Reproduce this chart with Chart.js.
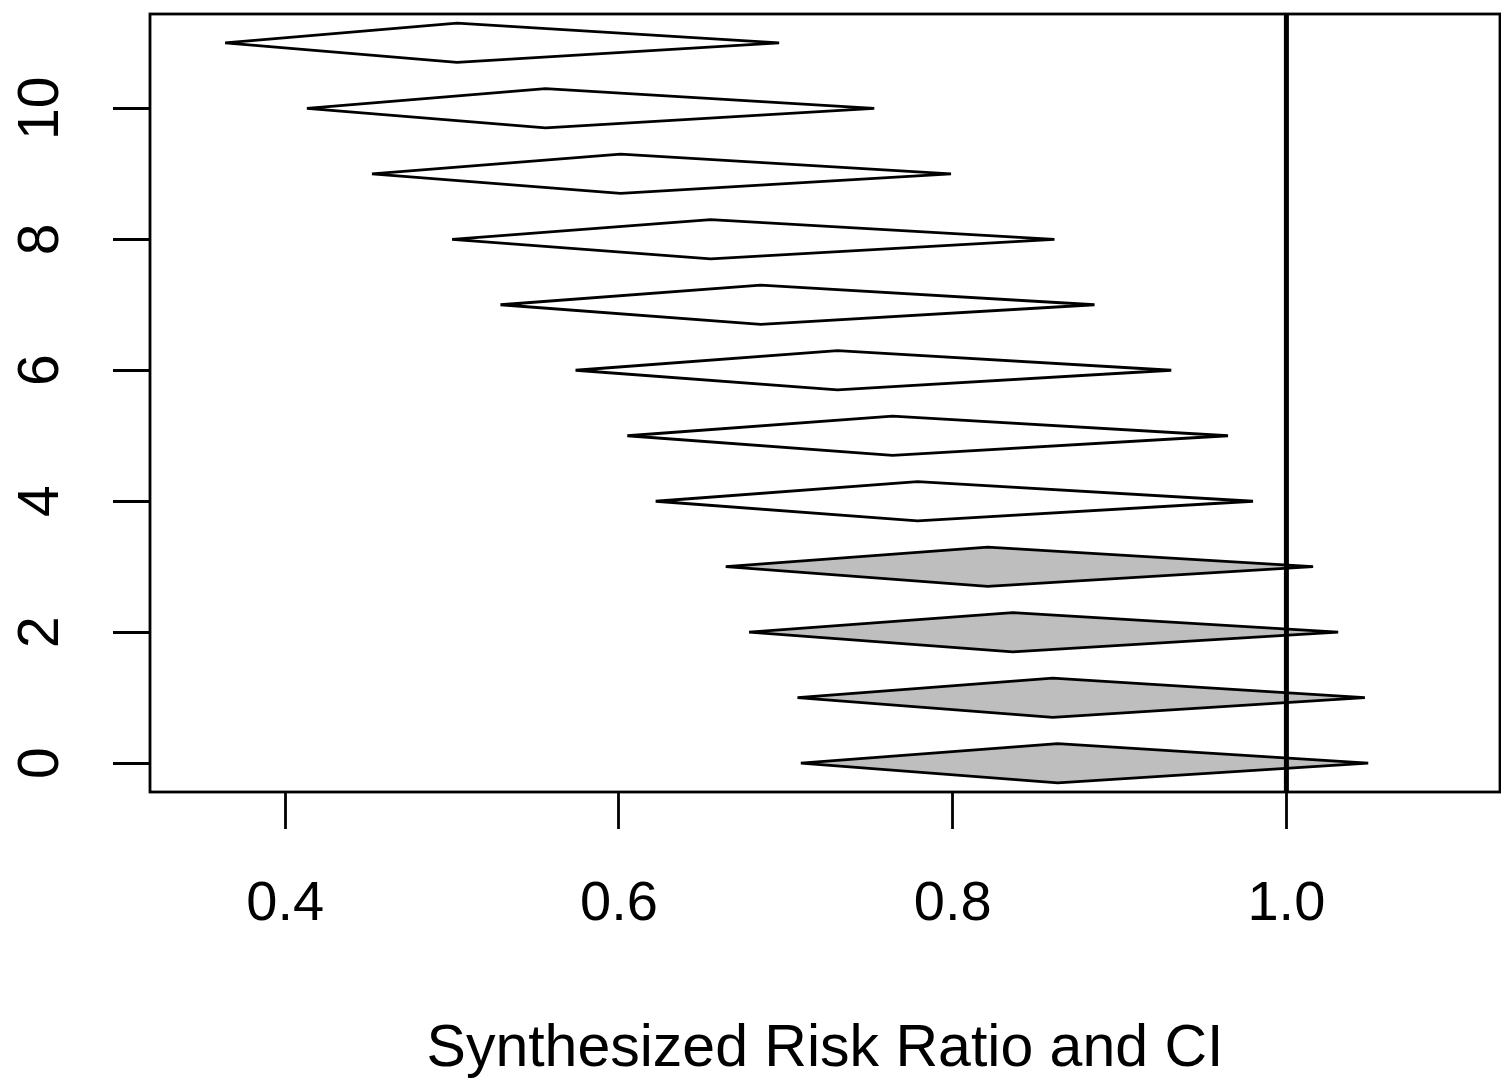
<!DOCTYPE html>
<html>
<head>
<meta charset="utf-8">
<title>Synthesized Risk Ratio and CI</title>
<script src="https://cdn.jsdelivr.net/npm/chart.js@4/dist/chart.umd.min.js"></script>
<style>
  html, body { margin: 0; padding: 0; background: #fff; }
  #wrap { width: 1501px; height: 1079px; }
</style>
</head>
<body>
<div id="wrap"><canvas id="chart" width="1501" height="1079"></canvas></div>
<script>
// ===== data (row 0 at the bottom) =====
const rows   = [0, 1, 2, 3, 4, 5, 6, 7, 8, 9, 10, 11];
const lower  = [0.709, 0.707, 0.678, 0.664, 0.622, 0.605, 0.574, 0.529, 0.500, 0.452, 0.413, 0.364];
const est    = [0.863, 0.860, 0.836, 0.821, 0.779, 0.764, 0.731, 0.685, 0.655, 0.601, 0.556, 0.503];
const upper  = [1.049, 1.047, 1.031, 1.016, 0.980, 0.965, 0.931, 0.885, 0.861, 0.799, 0.753, 0.696];
const xTicks = [0.4, 0.6, 0.8, 1.0];
const yTicks = [0, 2, 4, 6, 8, 10];
const refLine = 1.0;
const xTitle = 'Synthesized Risk Ratio and CI';

// ===== style =====
const HALF_H = 0.3;          // diamond half height (row units)
const GREY = '#BEBEBE';
const LW = 2.8;

Chart.defaults.font.family = "'Liberation Sans', Arial, Helvetica, sans-serif";
Chart.defaults.color = '#000';

// one closed diamond per row
const datasets = rows.map((r, i) => ({
  data: [
    { x: lower[i], y: r },
    { x: est[i],   y: r + HALF_H },
    { x: upper[i], y: r },
    { x: est[i],   y: r - HALF_H },
    { x: lower[i], y: r },
  ],
  showLine: true,
  tension: 0,
  pointRadius: 0,
  borderColor: '#000',
  borderWidth: LW,
  borderJoinStyle: 'miter',
  fill: 'shape',
  backgroundColor: upper[i] > refLine ? GREY : '#fff',
}));

// box around the plot + vertical reference line (R style)
const rFrame = {
  id: 'rFrame',
  afterDatasetsDraw(chart) {
    const { ctx, chartArea: a, scales: { x } } = chart;
    ctx.save();
    ctx.strokeStyle = '#000';
    const xr = x.getPixelForValue(refLine);
    ctx.lineWidth = 5;
    ctx.beginPath();
    ctx.moveTo(xr, a.top);
    ctx.lineTo(xr, a.bottom);
    ctx.stroke();
    ctx.lineWidth = LW;
    ctx.strokeRect(a.left, a.top, a.right - a.left, a.bottom - a.top);
    ctx.restore();
  }
};

new Chart(document.getElementById('chart'), {
  type: 'scatter',
  data: { datasets },
  plugins: [rFrame],
  options: {
    responsive: false,
    animation: false,
    devicePixelRatio: 1,
    layout: { padding: { left: 0, top: 14, right: 1, bottom: 0 } },
    plugins: { legend: { display: false }, tooltip: { enabled: false } },
    scales: {
      x: {
        type: 'linear',
        min: 0.319, max: 1.128,
        afterBuildTicks: axis => { axis.ticks = xTicks.map(v => ({ value: v })); },
        afterFit: axis => {
          axis.height = 287;
          axis.paddingLeft = 0; axis.paddingRight = 0;
        },
        border: { display: false },
        grid: { drawOnChartArea: false, drawTicks: true, tickLength: 37, tickWidth: LW, tickColor: '#000' },
        ticks: {
          font: { size: 56, lineHeight: 1.2 },
          padding: 42,
          maxRotation: 0,
          callback: v => v.toFixed(1)
        },
        title: {
          display: true,
          text: xTitle,
          font: { size: 59, lineHeight: 1 },
          padding: { top: 0, bottom: 0 }
        }
      },
      y: {
        type: 'linear',
        min: -0.44, max: 11.44,
        afterBuildTicks: axis => { axis.ticks = yTicks.map(v => ({ value: v })); },
        afterFit: axis => {
          axis.width = 150;
          axis.paddingTop = 0; axis.paddingBottom = 0;
        },
        border: { display: false },
        grid: { drawOnChartArea: false, drawTicks: true, tickLength: 37, tickWidth: LW, tickColor: '#000' },
        ticks: {
          font: { size: 57 },
          minRotation: 90, maxRotation: 90,
          crossAlign: 'center',
          padding: 39,
          callback: v => String(v)
        }
      }
    }
  }
});
</script>
</body>
</html>
